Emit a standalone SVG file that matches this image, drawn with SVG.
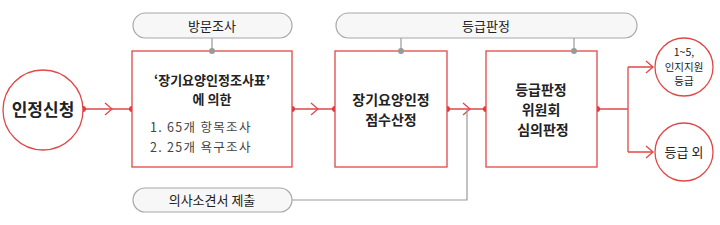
<svg xmlns="http://www.w3.org/2000/svg" width="720" height="225" viewBox="0 0 720 225">
<style>
.t{font-family:"Noto Sans CJK KR","Noto Sans",sans-serif;fill:#222;text-anchor:middle}
.s{text-anchor:start;fill:#444;font-size:12.5px;letter-spacing:1.3px}
.b{font-weight:bold}
.red{fill:#fff;stroke:#e04848;stroke-width:1.3}
.pill{fill:#f7f7f7;stroke:#a8a8a8;stroke-width:1.2}
.rl{fill:none;stroke:#e04848;stroke-width:1.3}
.gl{fill:none;stroke:#999;stroke-width:1.2}
.rd{fill:#e03a3a}
.gd{fill:#999}
</style>
<rect width="720" height="225" fill="#fff"/>
<g id="connectors">
<path class="rl" d="M83 109H132M292 109H335M447 109H486M597 109H628M628 67V152M628 67H653M628 152H653"/>
<path class="rl" d="M311 103L318 109L311 115M105 103L112 109L105 115M463 103L470 109L463 115M646 61L653 67L646 73M646 146L653 152L646 158"/>
<path class="gl" d="M212 38V51M401 38V51M574 38V51M292 200H467V109"/>
<circle class="rd" cx="83" cy="109" r="3"/>
<circle class="rd" cx="132" cy="109" r="3"/>
<circle class="rd" cx="292" cy="109" r="3"/>
<circle class="rd" cx="335" cy="109" r="3"/>
<circle class="rd" cx="447" cy="109" r="3"/>
<circle class="rd" cx="486" cy="109" r="3"/>
<circle class="rd" cx="597" cy="109" r="3"/>
</g>
<g id="n-apply">
<circle class="red" cx="43" cy="110" r="40"/>
<text class="t b" x="43" y="116" font-size="17">인정신청</text>
</g>
<g id="n-visit">
<rect class="pill" x="133" y="13" width="159" height="25" rx="12.5"/>
<text class="t" x="212" y="30.5" font-size="13">방문조사</text>
</g>
<g id="n-grade">
<rect class="pill" x="336" y="13" width="301" height="25" rx="12.5"/>
<text class="t" x="486" y="30.5" font-size="13">등급판정</text>
</g>
<g id="n-doctor">
<rect class="pill" x="133" y="188" width="159" height="24" rx="12"/>
<text class="t" x="212" y="204.5" font-size="13">의사소견서 제출</text>
</g>
<g id="n-survey">
<rect class="red" x="132" y="51" width="160" height="116"/>
<text class="t b" x="212" y="85" font-size="13">‘장기요양인정조사표’</text>
<text class="t b" x="212" y="104" font-size="13">에 의한</text>
<text class="t s" x="150" y="132">1. 65개 항목조사</text>
<text class="t s" x="150" y="152">2. 25개 욕구조사</text>
<circle class="gd" cx="212" cy="51" r="3"/>
</g>
<g id="n-score">
<rect class="red" x="335" y="51" width="112" height="116"/>
<text class="t b" x="391" y="105" font-size="14">장기요양인정</text>
<text class="t b" x="391" y="125" font-size="14">점수산정</text>
<circle class="gd" cx="401" cy="51" r="3"/>
</g>
<g id="n-committee">
<rect class="red" x="486" y="51" width="111" height="116"/>
<text class="t b" x="541" y="95" font-size="14">등급판정</text>
<text class="t b" x="541" y="115" font-size="14">위원회</text>
<text class="t b" x="543" y="135" font-size="14">심의판정</text>
<circle class="gd" cx="574" cy="51" r="3"/>
</g>
<g id="n-grade15">
<circle class="red" cx="684" cy="67" r="29"/>
<text class="t" x="684" y="56" font-size="10.5">1~5,</text>
<text class="t" x="684" y="70.5" font-size="10.5">인지지원</text>
<text class="t" x="684" y="85" font-size="10.5">등급</text>
</g>
<g id="n-other">
<circle class="red" cx="684" cy="152" r="29"/>
<text class="t" x="684" y="157" font-size="13">등급 외</text>
</g>
</svg>
